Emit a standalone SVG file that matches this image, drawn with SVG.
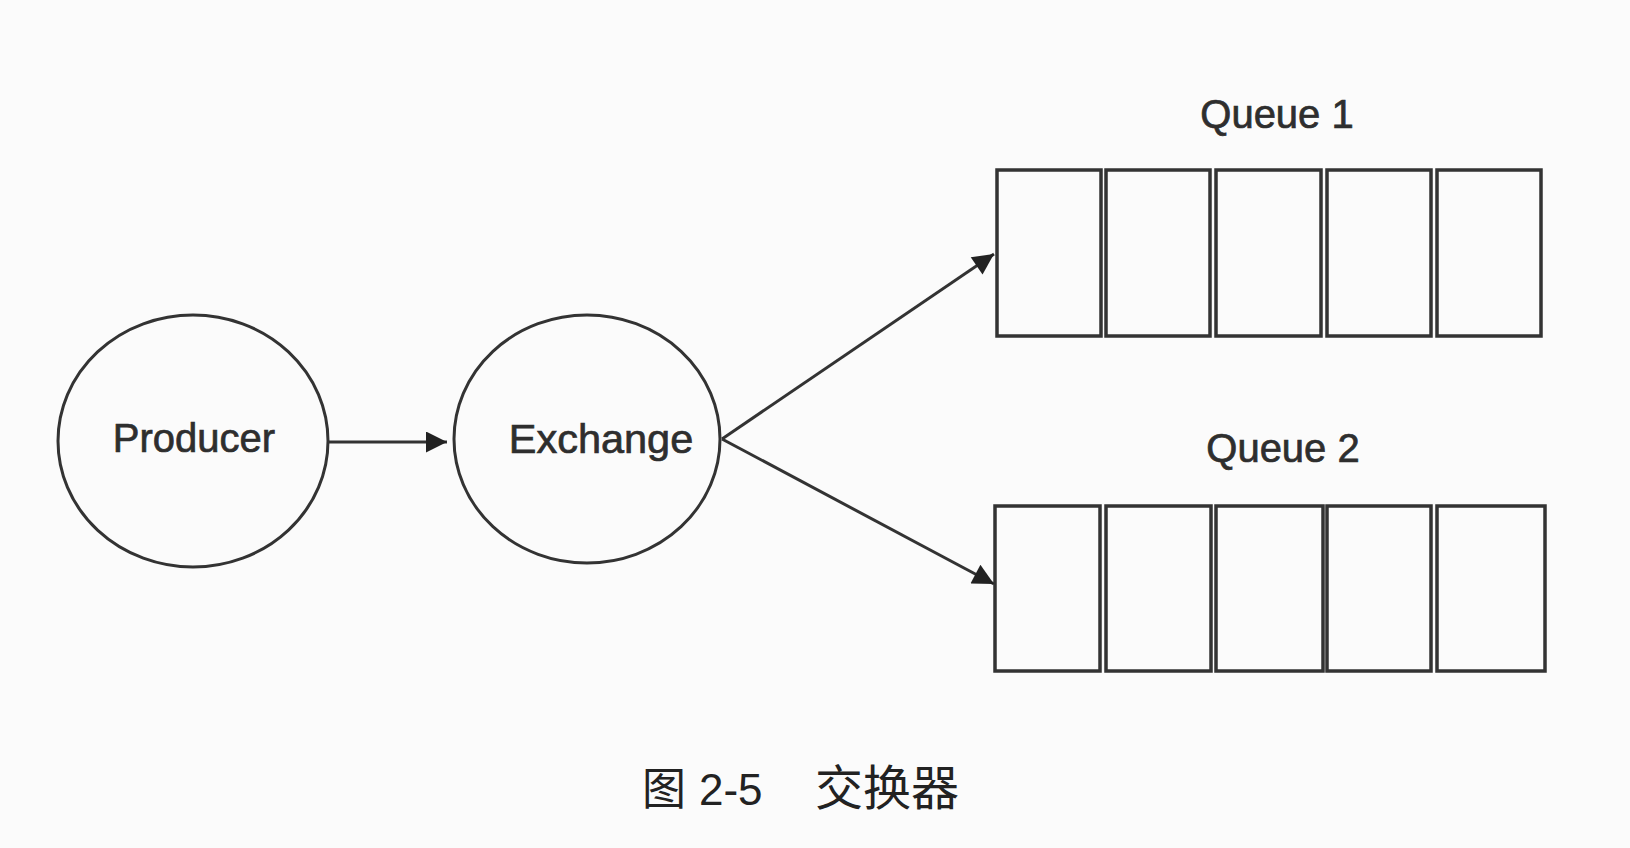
<svg xmlns="http://www.w3.org/2000/svg" width="1630" height="848" viewBox="0 0 1630 848">
<style>
.node{fill:none;stroke:#333;stroke-width:3}
.cell{fill:none;stroke:#333;stroke-width:3.5}
.lbl{font-family:"Liberation Sans",Arial,sans-serif;font-size:40px;fill:#2e2e2e;stroke:#2e2e2e;stroke-width:0.7;text-anchor:middle}
.edge{stroke:#333;stroke-width:3;fill:none}
.cap{font-family:"Liberation Sans","Noto Sans CJK SC",sans-serif;font-size:44px;fill:#222}
</style>
<defs>
<marker id="ah" viewBox="0 0 10 10" refX="10" refY="5" markerWidth="9.5" markerHeight="7" markerUnits="strokeWidth" orient="auto">
<path d="M0,0 L10,5 L0,10 z" fill="#222"/>
</marker>
</defs>
<rect width="1630" height="848" fill="#fbfbfb"/>
<g id="producer">
<ellipse class="node" cx="193" cy="441" rx="135" ry="126"/>
<text class="lbl" x="194" y="452">Producer</text>
</g>
<g id="exchange">
<ellipse class="node" cx="587" cy="439" rx="133" ry="124"/>
<text class="lbl" x="601" y="453" style="font-size:41.5px">Exchange</text>
</g>
<g id="queue1">
<text class="lbl" x="1277" y="128">Queue 1</text>
<rect class="cell" x="997" y="170" width="104" height="166"/>
<rect class="cell" x="1106" y="170" width="104" height="166"/>
<rect class="cell" x="1216" y="170" width="105" height="166"/>
<rect class="cell" x="1327" y="170" width="104" height="166"/>
<rect class="cell" x="1437" y="170" width="104" height="166"/>
</g>
<g id="queue2">
<text class="lbl" x="1283" y="462">Queue 2</text>
<rect class="cell" x="995" y="506" width="105" height="165"/>
<rect class="cell" x="1106" y="506" width="105" height="165"/>
<rect class="cell" x="1216" y="506" width="107" height="165"/>
<rect class="cell" x="1327" y="506" width="104" height="165"/>
<rect class="cell" x="1437" y="506" width="108" height="165"/>
</g>
<g id="connectors">
<line class="edge" x1="328" y1="442" x2="447" y2="442" marker-end="url(#ah)"/>
<line class="edge" x1="722" y1="439" x2="994" y2="254" marker-end="url(#ah)"/>
<line class="edge" x1="722" y1="439" x2="994" y2="584" marker-end="url(#ah)"/>
</g>
<g id="caption">
<text class="cap" y="805"><tspan x="642">图</tspan><tspan x="699">2-5</tspan><tspan x="815" style="font-size:48px">交换器</tspan></text>
</g>
</svg>
